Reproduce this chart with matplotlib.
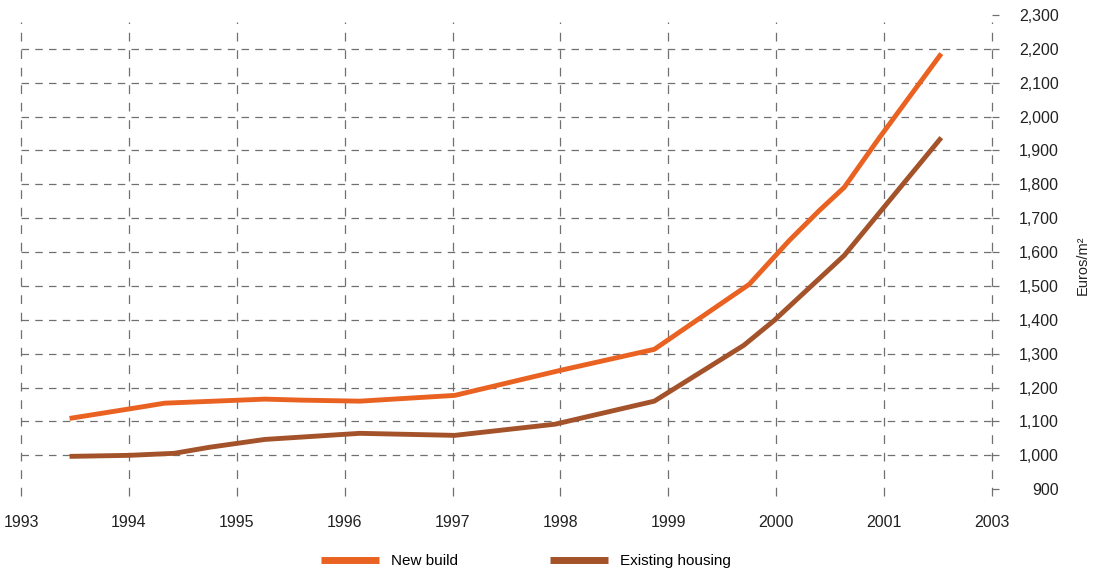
import matplotlib.pyplot as plt

plt.rcParams["font.family"] = ["Liberation Sans", "DejaVu Sans"]

# Average price per m2 (x as fractional years)
new_years = [1993.45, 1994.1, 1994.33, 1994.56, 1995.26, 1995.6, 1996.14,
             1997.02, 1998.0, 1998.87, 1999.75, 2000.12, 2000.4, 2000.63,
             2000.95, 2001.53]
new_build = [1109, 1142, 1154, 1157, 1166, 1163, 1160,
             1177, 1251, 1313, 1505, 1634, 1723, 1791,
             1935, 2186]

old_years = [1993.45, 1994.0, 1994.42, 1994.75, 1995.26, 1996.14, 1997.02,
             1997.95, 1998.87, 1999.7, 1999.98, 2000.63, 2001.53]
existing = [997, 1000, 1006, 1024, 1047, 1065, 1059,
            1092, 1160, 1325, 1398, 1590, 1938]

x_ticks = list(range(1993, 2003))
x_labels = ["1993", "1994", "1995", "1996", "1997", "1998", "1999",
            "2000", "2001", "2003"]
y_ticks = list(range(900, 2301, 100))

orange = "#ea6221"
brown = "#a3522a"
grid_c = "#707070"

fig = plt.figure(figsize=(10.98, 5.74), dpi=100)
ax = fig.add_axes([21 / 1098, 1 - 496 / 574, (992 - 21) / 1098, (496 - 15) / 574])
ax.set_xlim(1993, 2002)
ax.set_ylim(880, 2300)

# dashed grid, drawn only over the ranges used in the original
for x in x_ticks:
    ax.plot([x, x], [880, 2280], color=grid_c, lw=0.9, dashes=(7, 7),
            zorder=1, clip_on=False)
for y in y_ticks[1:-1]:
    ax.plot([1993, 2002], [y, y], color=grid_c, lw=0.9, dashes=(6, 5),
            zorder=1, clip_on=False)

ax.plot(new_years, new_build, color=orange, lw=3.5, solid_capstyle="butt",
        label="New build", zorder=3)
ax.plot(old_years, existing, color=brown, lw=3.5, solid_capstyle="butt",
        label="Existing housing", zorder=3)

for s in ax.spines.values():
    s.set_visible(False)

ax.set_xticks(x_ticks)
ax.set_xticklabels(x_labels)
ax.tick_params(axis="x", length=0, pad=14, labelsize=11.5, colors="#222222")

ax.yaxis.tick_right()
ax.set_yticks(y_ticks)
ax.set_yticklabels([f"{v:,}" for v in y_ticks])
ax.tick_params(axis="y", length=5, width=0.9, color=grid_c, pad=43,
               labelsize=11.5, labelcolor="#222222")
for lab in ax.get_yticklabels():
    lab.set_horizontalalignment("right")

fig.text(1083 / 1098, 1 - 265 / 574, "Euros/m²", rotation=90,
         ha="center", va="center", fontsize=10.5, color="#222222")

leg = fig.legend(loc="center", bbox_to_anchor=(526 / 1098, 1 - 561 / 574),
                 ncol=2, frameon=False, fontsize=11, handlelength=3.8,
                 handletextpad=0.8, columnspacing=6.0)
for line in leg.get_lines():
    line.set_linewidth(5)

fig.savefig("out.png", dpi=100)
